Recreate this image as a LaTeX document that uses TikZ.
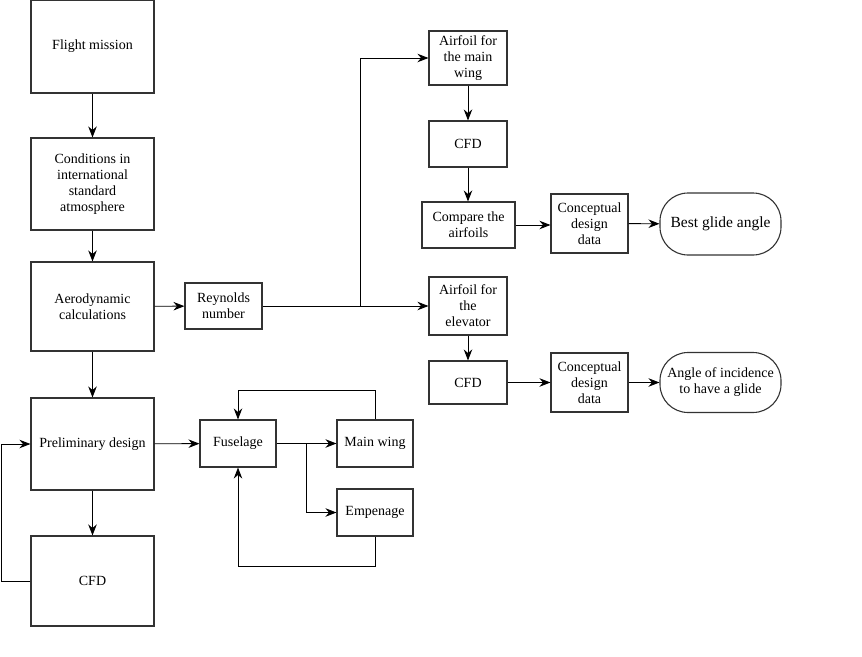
\documentclass[tikz,border=0pt]{standalone}
\usepackage{fontspec}
\setmainfont{Liberation Serif}
\usetikzlibrary{arrows.meta,positioning}
\begin{document}
\begin{tikzpicture}[x=1pt,y=-1pt,
  box/.style={draw=black!80,line width=1.1pt,fill=white,align=center,inner sep=2pt,font=\fontsize{14}{16}\selectfont},
  term/.style={box,rounded corners=28pt},
  conn/.style={line width=0.9pt,-{Stealth[length=11pt,width=8.5pt]}},
  plain/.style={line width=0.9pt}]
\useasboundingbox (0,0) rectangle (862,656);
% left column
\node[box,minimum width=123pt,minimum height=93pt] (fm) at (92.5,46.5) {Flight mission};
\node[box,minimum width=123pt,minimum height=92pt] (isa) at (92.5,184) {Conditions in\\international\\standard\\atmosphere};
\node[box,minimum width=123pt,minimum height=89pt] (aero) at (92.5,306.5) {Aerodynamic\\calculations};
\node[box,minimum width=123pt,minimum height=92pt] (pre) at (92.5,444) {Preliminary design};
\node[box,minimum width=123pt,minimum height=90pt] (cfdl) at (92.5,581) {CFD};
% middle
\node[box,minimum width=77pt,minimum height=46pt] (rey) at (223.5,306) {Reynolds\\number};
\node[box,minimum width=76pt,minimum height=47pt] (fus) at (238,443.5) {Fuselage};
\node[box,minimum width=76pt,minimum height=47pt] (mw) at (375,443.5) {Main wing};
\node[box,minimum width=76pt,minimum height=47pt] (emp) at (375,512.5) {Empenage};
% right upper
\node[box,minimum width=78pt,minimum height=54pt] (afm) at (468,58) {Airfoil for\\the main\\wing};
\node[box,minimum width=78pt,minimum height=46pt] (cfd1) at (468,144) {CFD};
\node[box,minimum width=93pt,minimum height=46pt] (cmp) at (468.5,225) {Compare the\\airfoils};
\node[box,minimum width=77pt,minimum height=59pt] (cdd1) at (589.5,223.5) {Conceptual\\design\\data};
\node[term,minimum width=121pt,minimum height=62pt,font=\fontsize{15.5}{17.5}\selectfont] (bga) at (720.5,224) {Best glide angle};
% right lower
\node[box,minimum width=78pt,minimum height=58pt] (afe) at (468,306) {Airfoil for\\the\\elevator};
\node[box,minimum width=78pt,minimum height=43pt] (cfd2) at (468,382.5) {CFD};
\node[box,minimum width=77pt,minimum height=59pt] (cdd2) at (589.5,382.5) {Conceptual\\design\\data};
\node[term,minimum width=121pt,minimum height=60pt,inner sep=1pt] (aoi) at (720.5,382.5) {Angle of incidence\\to have a glide};
% coordinates
\coordinate (loopl1) at (1,581);
\coordinate (loopl2) at (1,444);
\coordinate (br1) at (360,306);
\coordinate (br1t) at (360,58);
\coordinate (br2) at (306,443.5);
\coordinate (br2b) at (306,512.5);
\coordinate (mwt) at (375,390);
\coordinate (fust) at (238,390);
\coordinate (empb) at (375,566);
\coordinate (fusb) at (238,566);
% connectors
\draw[conn] (fm) -- (isa);
\draw[conn] (isa) -- (aero);
\draw[conn] (aero) -- (rey);
\draw[conn] (aero) -- (pre);
\draw[conn] (pre) -- (cfdl);
\draw[conn] (cfdl.west) -- (loopl1) -- (loopl2) -- (pre.west);
\draw[conn] (pre) -- (fus);
\draw[conn] (rey) -- (afe);
\draw[conn] (br1) -- (br1t) -- (afm.west);
\draw[conn] (afm) -- (cfd1);
\draw[conn] (cfd1.south) -- (cfd1.south |- cmp.north);
\draw[conn] (cmp.east) -- (cmp.east -| cdd1.west);
\draw[conn] (cdd1) -- (bga);
\draw[conn] (afe) -- (cfd2);
\draw[conn] (cfd2) -- (cdd2);
\draw[conn] (cdd2) -- (aoi);
\draw[conn] (fus) -- (mw);
\draw[conn] (br2) -- (br2b) -- (emp.west);
\draw[conn] (mw.north) -- (mwt) -- (fust) -- (fus.north);
\draw[conn] (emp.south) -- (empb) -- (fusb) -- (fus.south);
\end{tikzpicture}
\end{document}
